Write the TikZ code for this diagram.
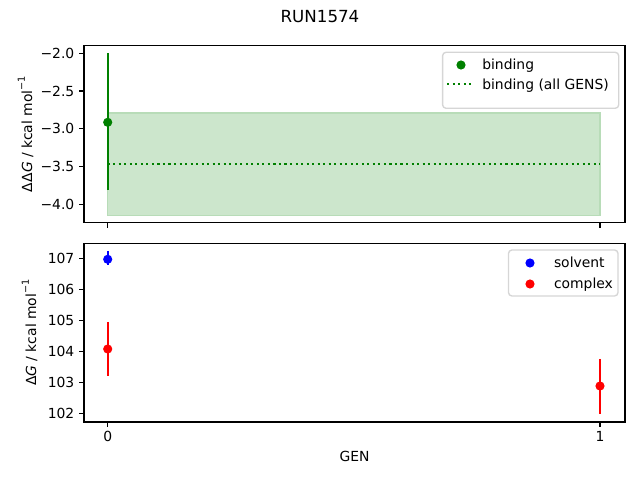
\documentclass[tikz,border=0pt]{standalone}
\usepackage{fontspec}
\setmainfont{DejaVu Sans}
\definecolor{mgreen}{HTML}{008000}
\definecolor{mblue}{HTML}{0000FF}
\definecolor{mred}{HTML}{FF0000}
\definecolor{band}{HTML}{CCE6CC}
\definecolor{bandedge}{HTML}{B8DCB8}
\definecolor{legedge}{HTML}{CCCCCC}
\begin{document}
\begin{tikzpicture}[x=0.01in,y=-0.01in,
  every node/.style={inner sep=0pt,outer sep=0pt,font=\fontsize{10bp}{12bp}\selectfont},
  spine/.style={line width=0.8bp,black},
  tick/.style={line width=0.8bp,black},
  ebar/.style={line width=1.5bp},
  legbox/.style={draw=legedge,fill=white,fill opacity=0.8,draw opacity=0.8,line width=1bp,rounded corners=2.5bp},
  ylab/.style={anchor=base east},
  mk/.style={radius=3.3bp},
]
\useasboundingbox (0,0) rectangle (640,480);
% title
\node[anchor=base,font=\fontsize{12bp}{14bp}\selectfont] (title) at (320,22.3) {RUN1574};

% ---------- top axes ----------
\fill[band] (107.7,113) rectangle (600,215.3);
\draw[bandedge,line width=1bp] (107.7,113) rectangle (600,215.3);
\draw[mgreen,line width=1.5bp,dash pattern=on 1.5bp off 2.475bp] (107.7,163.7) -- (600,163.7);
\draw[mgreen,ebar] (107.7,53.3) -- (107.7,190);
\fill[mgreen] (107.7,122.3) circle[mk];
\draw[spine] (84,45.3) rectangle (625,222.7);
\foreach \yy/\lab in {53.3/−2.0,91.0/−2.5,128.7/−3.0,166.4/−3.5,204.1/−4.0}{
  \draw[tick] (84,\yy) -- (79.14,\yy);
  \node[ylab] at (74.3,\yy+5.05) {\lab};
}
\foreach \xx in {107.7,600}{ \draw[tick] (\xx,222.7) -- (\xx,227.56); }
\node[rotate=90,anchor=south] (ylabtop) at (33.5,134) {ΔΔ\textit{G} / kcal mol\raisebox{0.95ex}{\fontsize{7bp}{8bp}\selectfont −1}};
% legend top
\draw[legbox] (442.6,52.3) rectangle (618.7,108.3);
\fill[mgreen] (461,65) circle[mk];
\draw[mgreen,line width=1.5bp,dash pattern=on 1.5bp off 2.475bp] (447.3,84.3) -- (474.5,84.3);
\node[anchor=base west] (l1) at (482.3,69.6) {binding};
\node[anchor=base west] (l2) at (482.3,89.6) {binding (all GENS)};

% ---------- bottom axes ----------
\draw[mblue,ebar] (107.7,251) -- (107.7,265.3);
\fill[mblue] (107.7,259.3) circle[mk];
\draw[mred,ebar] (107.7,322) -- (107.7,375.7);
\fill[mred] (107.7,349) circle[mk];
\draw[mred,ebar] (600,359) -- (600,413.7);
\fill[mred] (600,386) circle[mk];
\draw[spine] (84,243.3) rectangle (625,422);
\foreach \yy/\lab in {258.3/107,289.3/106,320.3/105,351.3/104,382.3/103,413.3/102}{
  \draw[tick] (84,\yy) -- (79.14,\yy);
  \node[ylab] at (74.3,\yy+5.05) {\lab};
}
\foreach \xx/\lab in {107.7/0,600/1}{
  \draw[tick] (\xx,422) -- (\xx,426.86);
  \node[anchor=base] at (\xx,441.8) {\lab};
}
\node[anchor=base] (xlab) at (354.5,461.5) {GEN};
\node[rotate=90,anchor=south] (ylabbot) at (37.5,332.6) {Δ\textit{G} / kcal mol\raisebox{0.95ex}{\fontsize{7bp}{8bp}\selectfont −1}};
% legend bottom
\draw[legbox] (508.5,250) rectangle (618,296);
\fill[mblue] (530,263) circle[mk];
\fill[mred] (530,284) circle[mk];
\node[anchor=base west] (l3) at (554,267.6) {solvent};
\node[anchor=base west] (l4) at (554,288.6) {complex};
\end{tikzpicture}
\end{document}
